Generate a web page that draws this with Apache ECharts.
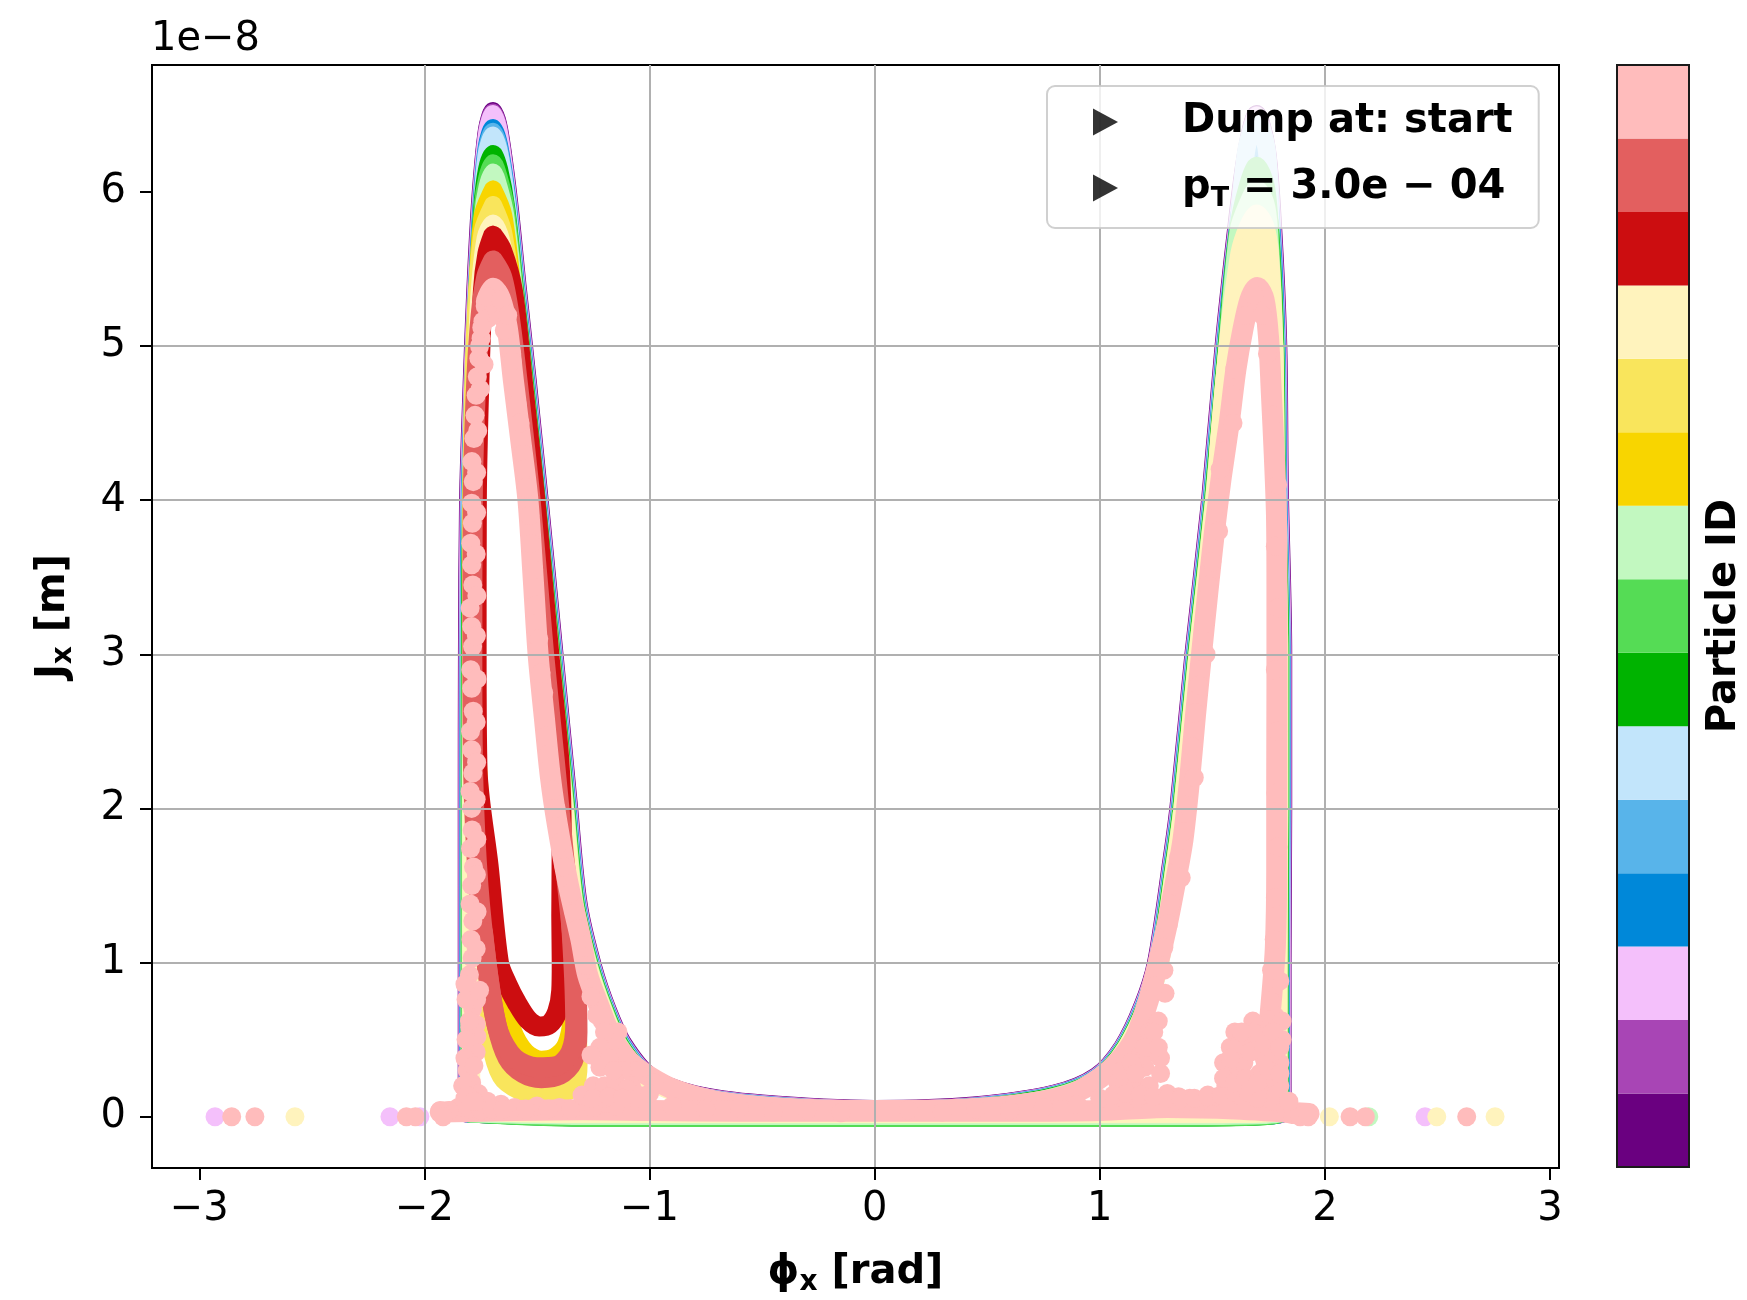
<!DOCTYPE html>
<html>
<head>
<meta charset="utf-8">
<title>Phase space: Jx vs phi_x</title>
<script src="https://cdn.jsdelivr.net/npm/echarts@6.0.0/dist/echarts.min.js"></script>
<style>
  html, body { margin: 0; padding: 0; background: #ffffff; }
  #chart { width: 1747px; height: 1300px; }
</style>
</head>
<body>
<div id="chart"></div>
<script>
// ---------------------------------------------------------------------------
// Particle phase-space samples: [phi_x (rad), J_x (units of 1e-8 m)].
// Each particle is drawn with overlapping round markers, so its dense
// trajectory is rendered as a thick round-capped trace plus loose dots.
// ---------------------------------------------------------------------------
const PARTICLE_IDS = [0, 1, 2, 3, 4, 5, 6, 7, 8, 9, 10, 11, 12, 13, 14];
const PARTICLE_COLORS = [
  '#6a0080', '#a845b5', '#f4c0fb',
  '#0088d9', '#58b4ea', '#c2e5fb',
  '#00b300', '#55dc55', '#c2f8c0',
  '#f8d500', '#f9e55c', '#fff3bd',
  '#cc0d10', '#e35f5f', '#ffbcbc'
];
const X_TICKS = [-3, -2, -1, 0, 1, 2, 3];
const Y_TICKS = [0, 1, 2, 3, 4, 5, 6];
const X_RANGE = [-3.21, 3.04];
const Y_RANGE = [-0.333, 6.823];
const LEGEND_LABELS = ['Dump at: start', 'pT = 3.0e-04'];

// circulating particles
const track0 = [[-1.812,0.02],[-1.812,1.0],[-1.812,2.0],[-1.811,3.0],[-1.806,4.0],[-1.790,4.76],[-1.774,5.36],[-1.752,5.95],[-1.722,6.405],[-1.695,6.525],[-1.668,6.405],[-1.625,5.95],[-1.584,5.36],[-1.540,4.76],[-1.488,4.0],[-1.422,3.0],[-1.357,2.0],[-1.315,1.38],[-1.250,0.97],[-1.185,0.69],[-1.115,0.47],[-0.995,0.26],[-0.800,0.145],[-0.500,0.085],[0.000,0.050],[0.440,0.072],[0.800,0.150],[0.985,0.262],[1.100,0.45],[1.190,0.72],[1.250,1.0],[1.318,1.66],[1.349,2.0],[1.416,3.0],[1.490,4.0],[1.550,5.0],[1.605,5.75],[1.650,6.25],[1.697,6.505],[1.742,6.28],[1.770,5.77],[1.793,5.0],[1.800,4.07],[1.815,3.0],[1.815,2.0],[1.812,1.0],[1.812,0.02],[1.300,0.0],[0.000,0.0],[-1.300,0.0],[-1.812,0.02]];
const track1 = [[-1.810,0.02],[-1.810,1.0],[-1.810,2.0],[-1.809,3.0],[-1.804,4.0],[-1.788,4.76],[-1.772,5.36],[-1.750,5.95],[-1.722,6.395],[-1.695,6.515],[-1.668,6.395],[-1.627,5.95],[-1.586,5.36],[-1.542,4.76],[-1.490,4.0],[-1.424,3.0],[-1.359,2.0],[-1.317,1.38],[-1.252,0.97],[-1.187,0.69],[-1.117,0.468],[-0.996,0.258],[-0.800,0.143],[-0.500,0.083],[0.000,0.048],[0.440,0.070],[0.800,0.148],[0.986,0.26],[1.102,0.45],[1.192,0.72],[1.252,1.0],[1.320,1.66],[1.351,2.0],[1.418,3.0],[1.492,4.0],[1.552,5.0],[1.607,5.75],[1.651,6.245],[1.697,6.50],[1.741,6.275],[1.768,5.77],[1.791,5.0],[1.798,4.07],[1.813,3.0],[1.813,2.0],[1.810,1.0],[1.810,0.02],[1.300,0.0],[0.000,0.0],[-1.300,0.0],[-1.810,0.02]];
const track2 = [[-1.808,0.02],[-1.808,1.0],[-1.808,2.0],[-1.807,3.0],[-1.802,4.0],[-1.786,4.76],[-1.770,5.36],[-1.748,5.95],[-1.721,6.385],[-1.695,6.505],[-1.669,6.385],[-1.629,5.95],[-1.588,5.36],[-1.544,4.76],[-1.492,4.0],[-1.426,3.0],[-1.361,2.0],[-1.319,1.38],[-1.254,0.97],[-1.189,0.69],[-1.119,0.466],[-0.998,0.256],[-0.800,0.14],[-0.500,0.08],[0.000,0.045],[0.440,0.067],[0.800,0.145],[0.988,0.258],[1.104,0.45],[1.194,0.72],[1.254,1.0],[1.322,1.66],[1.353,2.0],[1.420,3.0],[1.494,4.0],[1.554,5.0],[1.609,5.75],[1.652,6.24],[1.697,6.495],[1.740,6.27],[1.766,5.77],[1.789,5.0],[1.796,4.07],[1.811,3.0],[1.811,2.0],[1.808,1.0],[1.808,0.02],[1.300,-0.002],[0.000,-0.002],[-1.300,-0.002],[-1.808,0.02]];
const track3 = [[-1.805,0.02],[-1.805,1.0],[-1.805,2.0],[-1.804,3.0],[-1.799,4.0],[-1.783,4.76],[-1.767,5.36],[-1.745,5.95],[-1.722,6.30],[-1.695,6.415],[-1.668,6.30],[-1.632,5.95],[-1.591,5.36],[-1.547,4.76],[-1.495,4.0],[-1.429,3.0],[-1.364,2.0],[-1.322,1.38],[-1.257,0.97],[-1.192,0.69],[-1.121,0.464],[-1.000,0.254],[-0.800,0.138],[-0.500,0.078],[0.000,0.043],[0.440,0.065],[0.800,0.143],[0.990,0.256],[1.107,0.45],[1.197,0.72],[1.257,1.0],[1.325,1.66],[1.356,2.0],[1.423,3.0],[1.497,4.0],[1.557,5.0],[1.612,5.75],[1.655,6.17],[1.697,6.32],[1.738,6.17],[1.763,5.77],[1.786,5.0],[1.793,4.07],[1.808,3.0],[1.808,2.0],[1.805,1.0],[1.805,0.02],[1.300,-0.004],[0.000,-0.004],[-1.300,-0.004],[-1.805,0.02]];
const track4 = [[-1.803,0.02],[-1.803,1.0],[-1.803,2.0],[-1.802,3.0],[-1.797,4.0],[-1.781,4.76],[-1.765,5.36],[-1.743,5.95],[-1.722,6.28],[-1.695,6.39],[-1.668,6.28],[-1.634,5.95],[-1.593,5.36],[-1.549,4.76],[-1.497,4.0],[-1.431,3.0],[-1.366,2.0],[-1.324,1.38],[-1.259,0.97],[-1.194,0.69],[-1.123,0.462],[-1.001,0.252],[-0.800,0.135],[-0.500,0.075],[0.000,0.040],[0.440,0.062],[0.800,0.140],[0.991,0.254],[1.109,0.45],[1.199,0.72],[1.259,1.0],[1.327,1.66],[1.358,2.0],[1.425,3.0],[1.499,4.0],[1.559,5.0],[1.614,5.75],[1.653,6.22],[1.697,6.38],[1.740,6.22],[1.761,5.77],[1.784,5.0],[1.791,4.07],[1.806,3.0],[1.806,2.0],[1.803,1.0],[1.803,0.02],[1.300,-0.003],[0.000,-0.003],[-1.300,-0.003],[-1.803,0.02]];
const track5 = [[-1.801,0.02],[-1.801,1.0],[-1.801,2.0],[-1.800,3.0],[-1.795,4.0],[-1.779,4.76],[-1.763,5.36],[-1.741,5.95],[-1.722,6.255],[-1.695,6.365],[-1.668,6.255],[-1.636,5.95],[-1.595,5.36],[-1.551,4.76],[-1.499,4.0],[-1.433,3.0],[-1.368,2.0],[-1.326,1.38],[-1.261,0.97],[-1.196,0.69],[-1.125,0.46],[-1.003,0.25],[-0.800,0.133],[-0.500,0.073],[0.000,0.038],[0.440,0.060],[0.800,0.138],[0.993,0.252],[1.111,0.45],[1.201,0.72],[1.261,1.0],[1.329,1.66],[1.360,2.0],[1.427,3.0],[1.501,4.0],[1.561,5.0],[1.616,5.75],[1.652,6.28],[1.697,6.46],[1.741,6.28],[1.759,5.77],[1.782,5.0],[1.789,4.07],[1.804,3.0],[1.804,2.0],[1.801,1.0],[1.801,0.02],[1.300,0.0],[0.000,0.0],[-1.300,0.0],[-1.801,0.02]];
const track6 = [[-1.799,0.02],[-1.799,1.0],[-1.799,2.0],[-1.798,3.0],[-1.793,4.0],[-1.777,4.76],[-1.761,5.36],[-1.743,5.9],[-1.722,6.145],[-1.695,6.245],[-1.668,6.145],[-1.637,5.9],[-1.597,5.36],[-1.553,4.76],[-1.501,4.0],[-1.435,3.0],[-1.370,2.0],[-1.328,1.38],[-1.263,0.97],[-1.198,0.69],[-1.127,0.458],[-1.004,0.248],[-0.800,0.130],[-0.500,0.070],[0.000,0.035],[0.440,0.057],[0.800,0.135],[0.994,0.25],[1.113,0.45],[1.203,0.72],[1.263,1.0],[1.331,1.66],[1.362,2.0],[1.429,3.0],[1.503,4.0],[1.563,5.0],[1.615,5.75],[1.660,5.95],[1.697,6.05],[1.735,5.95],[1.757,5.75],[1.780,5.0],[1.787,4.07],[1.802,3.0],[1.802,2.0],[1.799,1.0],[1.799,0.02],[1.300,-0.006],[0.000,-0.006],[-1.300,-0.006],[-1.799,0.02]];
const track7 = [[-1.797,0.02],[-1.797,1.0],[-1.797,2.0],[-1.796,3.0],[-1.791,4.0],[-1.775,4.76],[-1.759,5.36],[-1.741,5.9],[-1.721,6.09],[-1.695,6.185],[-1.669,6.09],[-1.639,5.9],[-1.599,5.36],[-1.555,4.76],[-1.503,4.0],[-1.437,3.0],[-1.372,2.0],[-1.330,1.38],[-1.265,0.97],[-1.200,0.69],[-1.129,0.456],[-1.006,0.246],[-0.800,0.126],[-0.500,0.066],[0.000,0.031],[0.440,0.053],[0.800,0.131],[0.996,0.248],[1.115,0.45],[1.205,0.72],[1.265,1.0],[1.333,1.66],[1.364,2.0],[1.431,3.0],[1.505,4.0],[1.565,5.0],[1.614,5.75],[1.658,6.04],[1.697,6.17],[1.737,6.04],[1.755,5.77],[1.778,5.0],[1.785,4.07],[1.800,3.0],[1.800,2.0],[1.797,1.0],[1.797,0.02],[1.300,-0.008],[0.000,-0.008],[-1.300,-0.008],[-1.797,0.02]];
const track8 = [[-1.794,0.02],[-1.794,1.0],[-1.794,2.0],[-1.793,3.0],[-1.788,4.0],[-1.772,4.76],[-1.756,5.36],[-1.739,5.85],[-1.720,6.03],[-1.695,6.125],[-1.670,6.03],[-1.641,5.85],[-1.602,5.36],[-1.558,4.76],[-1.506,4.0],[-1.440,3.0],[-1.375,2.0],[-1.333,1.38],[-1.268,0.97],[-1.203,0.69],[-1.131,0.454],[-1.008,0.244],[-0.800,0.124],[-0.500,0.064],[0.000,0.029],[0.440,0.051],[0.800,0.129],[0.998,0.246],[1.118,0.45],[1.208,0.72],[1.268,1.0],[1.336,1.66],[1.367,2.0],[1.434,3.0],[1.508,4.0],[1.568,5.0],[1.617,5.75],[1.660,5.93],[1.697,6.02],[1.735,5.93],[1.752,5.75],[1.775,5.0],[1.782,4.07],[1.797,3.0],[1.797,2.0],[1.794,1.0],[1.794,0.02],[1.300,0.004],[0.000,0.004],[-1.300,0.004],[-1.794,0.02]];
const track11 = [[-1.792,0.03],[-1.792,1.0],[-1.792,2.0],[-1.791,3.0],[-1.786,4.0],[-1.770,4.76],[-1.757,5.3],[-1.728,5.7],[-1.695,5.795],[-1.662,5.7],[-1.610,5.3],[-1.560,4.76],[-1.508,4.0],[-1.442,3.0],[-1.377,2.0],[-1.335,1.38],[-1.270,0.97],[-1.205,0.69],[-1.133,0.452],[-1.009,0.242],[-0.800,0.120],[-0.500,0.060],[0.000,0.025],[0.440,0.047],[0.800,0.125],[0.999,0.244],[1.118,0.45],[1.208,0.72],[1.268,1.0],[1.336,1.66],[1.367,2.0],[1.434,3.0],[1.508,4.0],[1.568,5.0],[1.620,5.6],[1.660,5.78],[1.697,5.86],[1.735,5.78],[1.756,5.6],[1.775,5.0],[1.782,4.07],[1.797,3.0],[1.797,2.0],[1.794,1.0],[1.794,0.03],[1.300,0.015],[0.000,0.015],[-1.300,0.015],[-1.792,0.03]];
const track11Right = [[1.525,4.3],[1.57,5.0],[1.63,5.52],[1.697,5.72],[1.748,5.52],[1.77,5.0],[1.78,4.3],[1.775,5.0],[1.74,5.45],[1.697,5.6],[1.64,5.42],[1.585,5.0],[1.545,4.3],[1.60,5.0],[1.65,5.35],[1.697,5.48],[1.735,5.35],[1.765,5.0],[1.78,4.4]];

// librating particles (left island)
const track9 = [[-1.695,6.015],[-1.650,5.85],[-1.608,5.36],[-1.564,4.76],[-1.512,4.0],[-1.446,3.0],[-1.381,2.0],[-1.35,1.5],[-1.34,1.0],[-1.345,0.65],[-1.37,0.47],[-1.42,0.39],[-1.48,0.37],[-1.55,0.42],[-1.61,0.57],[-1.66,0.85],[-1.71,1.3],[-1.75,2.0],[-1.785,3.0],[-1.79,4.0],[-1.78,4.76],[-1.765,5.36],[-1.74,5.85],[-1.695,6.015]];
const track10 = [[-1.695,5.915],[-1.652,5.75],[-1.612,5.36],[-1.567,4.76],[-1.515,4.0],[-1.449,3.0],[-1.384,2.0],[-1.35,1.5],[-1.33,1.0],[-1.32,0.6],[-1.315,0.35],[-1.33,0.2],[-1.39,0.15],[-1.48,0.14],[-1.58,0.17],[-1.66,0.26],[-1.71,0.5],[-1.74,0.9],[-1.77,1.6],[-1.79,2.5],[-1.793,3.5],[-1.79,4.3],[-1.78,4.9],[-1.765,5.36],[-1.74,5.75],[-1.695,5.915]];
const track12 = [[-1.695,5.715],[-1.655,5.62],[-1.607,5.36],[-1.562,4.76],[-1.507,4.0],[-1.445,3.0],[-1.40,2.3],[-1.39,1.8],[-1.392,1.3],[-1.39,1.0],[-1.392,0.82],[-1.41,0.68],[-1.445,0.60],[-1.49,0.585],[-1.54,0.63],[-1.59,0.74],[-1.632,0.86],[-1.669,1.0],[-1.715,1.63],[-1.764,2.25],[-1.768,3.0],[-1.767,4.0],[-1.756,4.76],[-1.74,5.36],[-1.72,5.6],[-1.695,5.715]];
const track13 = [[-1.695,5.555],[-1.655,5.45],[-1.622,5.2],[-1.585,4.76],[-1.528,4.0],[-1.468,3.0],[-1.42,2.3],[-1.38,1.7],[-1.345,1.2],[-1.325,0.85],[-1.32,0.55],[-1.34,0.36],[-1.40,0.27],[-1.48,0.25],[-1.56,0.28],[-1.63,0.38],[-1.68,0.6],[-1.72,0.95],[-1.76,1.5],[-1.783,2.2],[-1.787,3.0],[-1.785,4.0],[-1.77,4.76],[-1.75,5.2],[-1.725,5.45],[-1.695,5.555]];
const track13Inner = [[-1.74,1.2],[-1.71,0.85],[-1.67,0.55],[-1.60,0.38],[-1.50,0.32],[-1.41,0.33],[-1.35,0.42],[-1.33,0.6],[-1.335,0.9],[-1.35,1.3]];

// particle near the separatrix: visits both islands
const track14A = [[-1.725,5.29],[-1.695,5.375],[-1.663,5.31],[-1.632,5.12],[-1.605,4.78],[-1.573,4.4],[-1.54,4.0],[-1.517,3.5],[-1.495,3.0],[-1.468,2.6],[-1.44,2.2],[-1.41,1.9],[-1.36,1.5],[-1.305,1.15],[-1.275,0.92],[-1.225,0.72],[-1.17,0.52],[-1.09,0.36],[-1.0,0.26],[-0.88,0.17],[-0.7,0.1],[-0.4,0.055],[0.0,0.04],[0.4,0.05],[0.7,0.09],[0.88,0.15],[1.0,0.25],[1.09,0.37],[1.16,0.52],[1.215,0.75],[1.26,1.0],[1.30,1.25],[1.34,1.55],[1.37,1.8],[1.40,2.2],[1.425,2.6],[1.452,3.0],[1.48,3.4],[1.51,3.8],[1.54,4.15],[1.575,4.5],[1.605,4.85],[1.635,5.1],[1.667,5.3],[1.70,5.38],[1.73,5.3],[1.75,5.05],[1.762,4.7],[1.775,4.3],[1.785,3.9],[1.787,3.4],[1.787,2.8],[1.786,2.2],[1.786,1.6],[1.78,1.1],[1.765,0.8],[1.75,0.55],[1.74,0.35],[1.76,0.15],[1.80,0.05],[1.86,0.02]];
const track14B = [[-1.93,0.03],[-1.6,0.04],[-1.3,0.045],[-1.0,0.04],[-0.6,0.035],[0.0,0.035],[0.6,0.035],[1.0,0.04],[1.3,0.06],[1.6,0.05],[1.93,0.02]];

// loose markers
const dots2 = [[-2.93,0],[-2.153,0],[-2.02,0],[2.445,0]];
const dots8 = [[2.195,0]];
const dots11 = [[-2.575,0],[2.02,0],[2.497,0],[2.756,0]];
const dots14 = [
  // left island, outer arm
  [-1.795,0.35],[-1.79,0.46],[-1.798,0.58],[-1.785,0.70],[-1.792,0.81],[-1.80,0.92],[-1.788,1.03],[-1.793,1.15],[-1.785,1.27],[-1.797,1.38],
  [-1.79,1.50],[-1.782,1.62],[-1.795,1.74],[-1.788,1.86],[-1.79,2.00],[-1.797,2.11],[-1.785,2.23],[-1.79,2.38],[-1.795,2.50],[-1.783,2.63],
  [-1.79,2.78],[-1.794,2.90],[-1.786,3.05],[-1.79,3.18],[-1.797,3.30],[-1.785,3.45],[-1.79,3.58],[-1.794,3.72],[-1.787,3.85],[-1.79,3.98],
  [-1.783,4.12],[-1.789,4.25],[-1.78,4.40],[-1.775,4.55],[-1.77,4.68],[-1.765,4.80],[-1.758,4.92],[-1.748,5.05],[-1.74,5.16],[-1.73,5.26],
  [-1.767,0.52],[-1.768,0.76],[-1.770,1.09],[-1.766,1.33],[-1.769,1.57],[-1.767,1.80],[-1.770,2.06],[-1.768,2.30],[-1.770,2.56],[-1.766,2.84],
  [-1.769,3.12],[-1.767,3.38],[-1.770,3.65],[-1.768,3.92],[-1.768,4.18],[-1.763,4.45],[-1.752,4.72],
  // top of the left island
  [-1.715,5.18],[-1.675,5.22],[-1.645,5.10],[-1.755,5.00],[-1.70,5.28],[-1.745,5.12],[-1.72,5.32],[-1.66,5.30],[-1.63,5.20],[-1.612,4.95],[-1.735,4.88],
  // left island, inner arm
  [-1.588,4.62],[-1.562,4.30],[-1.548,4.08],[-1.527,3.72],[-1.508,3.32],[-1.482,2.88],[-1.457,2.47],[-1.432,2.12],[-1.395,1.78],[-1.335,1.32],
  [-1.29,1.04],[-1.255,0.84],[-1.21,0.62],[-1.16,0.45],[-1.11,0.40],[-1.06,0.30],[-0.98,0.22],[-1.14,0.55],
  [-1.61,4.90],[-1.575,4.50],[-1.555,4.20],[-1.532,3.90],[-1.515,3.55],[-1.492,3.10],[-1.47,2.75],[-1.45,2.35],[-1.415,2.00],[-1.38,1.62],
  [-1.35,1.45],[-1.318,1.22],[-1.285,0.98],[-1.26,0.78],[-1.235,0.66],[-1.20,0.55],[-1.22,0.45],[-1.18,0.38],[-1.12,0.30],[-1.08,0.20],[-1.05,0.14],
  // bottom of the left island
  [-1.82,0.12],[-1.79,0.22],[-1.81,0.30],[-1.77,0.42],[-1.815,0.50],[-1.77,0.60],[-1.815,0.76],[-1.755,0.82],[-1.76,0.15],[-1.72,0.10],
  [-1.66,0.08],[-1.85,0.06],[-1.89,0.04],[-1.93,0.04],[-1.60,0.06],[-1.50,0.07],[-1.40,0.06],[-1.30,0.07],[-1.20,0.09],[-1.10,0.10],
  [-1.83,0.20],[-1.82,0.38],[-1.80,0.62],[-1.82,0.86],[-1.78,0.33],[-1.80,0.05],[-1.75,0.04],[-1.70,0.05],[-1.65,0.05],[-1.55,0.05],
  [-1.45,0.05],[-1.35,0.05],[-1.25,0.06],[-1.15,0.07],[-1.05,0.10],
  [-1.25,0.20],[-1.20,0.20],[-1.15,0.22],[-1.10,0.18],[-1.30,0.14],[-1.25,0.12],[-1.18,0.13],[-1.12,0.12],[-1.05,0.12],[-1.00,0.15],
  [-1.22,0.32],[-1.16,0.30],[-1.26,0.40],[-1.81,0.14],[-1.78,0.10],
  // flat band
  [-0.90,0.07],[-0.75,0.05],[-0.60,0.055],[-0.45,0.03],[-0.30,0.045],[-0.15,0.025],[0.15,0.045],[0.30,0.03],[0.45,0.05],[0.60,0.04],[0.75,0.06],[0.90,0.08],
  // bottom of the right island
  [1.05,0.10],[1.10,0.16],[1.15,0.24],[1.20,0.32],[1.24,0.42],[1.22,0.20],[1.27,0.28],[1.30,0.15],[1.38,0.09],[1.45,0.10],
  [1.52,0.13],[1.56,0.20],[1.60,0.30],[1.63,0.42],[1.66,0.52],[1.70,0.45],[1.74,0.52],[1.71,0.28],[1.76,0.22],[1.80,0.35],
  [1.81,0.50],[1.78,0.65],[1.62,0.14],[1.70,0.12],[1.77,0.10],[1.83,0.05],[1.86,0.02],[1.89,0.0],
  [1.55,0.35],[1.58,0.45],[1.60,0.55],[1.64,0.35],[1.68,0.62],[1.69,0.20],[1.73,0.38],[1.77,0.42],[1.80,0.20],[1.81,0.62],
  [1.76,0.75],[1.80,0.88],[1.08,0.22],[1.12,0.10],[1.17,0.12],[1.18,0.40],[1.22,0.55],[1.27,0.38],[1.26,0.62],[1.29,0.80],
  [1.35,0.13],[1.40,0.12],[1.48,0.14],
  [1.00,0.12],[1.06,0.14],[1.12,0.15],[1.18,0.14],[1.24,0.13],[1.30,0.12],[1.36,0.12],[1.42,0.12],[1.48,0.13],[1.54,0.14],
  [1.60,0.16],[1.66,0.16],[1.72,0.15],[1.78,0.14],[1.84,0.10],
  [1.55,0.25],[1.60,0.22],[1.65,0.25],[1.70,0.22],[1.75,0.30],[1.80,0.28],[1.58,0.38],[1.62,0.48],[1.67,0.42],[1.72,0.48],
  [1.77,0.55],[1.80,0.45],[1.68,0.55],[1.63,0.55],[1.10,0.30],[1.14,0.35],[1.20,0.45],[1.24,0.55],[1.16,0.28],[1.26,0.45],
  // right island arms
  [1.245,0.85],[1.285,1.10],[1.315,1.38],[1.35,1.68],[1.385,2.02],[1.41,2.40],[1.44,2.80],[1.468,3.20],[1.498,3.60],[1.528,3.98],
  [1.558,4.32],[1.59,4.68],[1.618,4.98],[1.65,5.20],[1.685,5.33],[1.722,5.20],
  [1.285,0.95],[1.305,1.25],[1.362,1.55],[1.372,1.85],[1.42,2.20],[1.425,2.62],[1.472,3.00],[1.48,3.45],[1.528,3.80],[1.535,4.20],[1.592,4.50],[1.60,4.85],
  [1.745,4.95],[1.768,4.55],[1.79,4.10],[1.78,3.70],[1.792,3.30],[1.78,2.90],[1.79,2.50],[1.782,2.10],[1.792,1.75],[1.78,1.42],[1.775,1.15],[1.763,0.95],
  // scattered near J = 0
  [-2.856,0],[-2.753,0],[-2.08,0],[-2.04,0],[-1.917,0],[1.926,0],[2.112,0],[2.18,0],[2.63,0]
];

// per-particle grouping of the arrays above (index = particle ID)
const particleTracks = [
  [track0], [track1], [track2], [track3], [track4], [track5], [track6], [track7], [track8],
  [track9], [track10], [track11, track11Right], [track12], [track13, track13Inner], [track14A, track14B]
];
const particleDots = [[], [], dots2, [], [], [], [], [], dots8, [], [], dots11, [], [], dots14];

// ---------------------------------------------------------------------------
const FONT = 'DejaVu Sans';
const FS = 40;            // base font size
const MARK = 19;          // marker diameter in px
const GRID_GRAY = '#b0b0b0';

// dense traces are a little wider than one marker where the samples scatter around the orbit
function traceWidth(id) {
  if (id === 14) return 21;
  if (id === 12 || id === 13) return 20;
  return 18;
}

function fmtTick(v) {
  return v < 0 ? '\u2212' + Math.abs(v) : String(v);
}

const series = [];
PARTICLE_IDS.forEach(function (id) {
  const color = PARTICLE_COLORS[id];
  particleTracks[id].forEach(function (pts) {
    series.push({
      type: 'line', xAxisIndex: 0, yAxisIndex: 0, data: pts,
      symbol: 'none', showSymbol: false, smooth: 0.3, silent: true, animation: false, z: 2,
      lineStyle: { color: color, width: traceWidth(id), cap: 'round', join: 'round', opacity: 1 }
    });
  });
  if (particleDots[id].length) {
    series.push({
      type: 'scatter', xAxisIndex: 0, yAxisIndex: 0, data: particleDots[id],
      symbol: 'circle', symbolSize: MARK, silent: true, animation: false, z: 2,
      itemStyle: { color: color, opacity: 1, borderWidth: 0 }
    });
  }
});

// legend entries (marker-only handles)
LEGEND_LABELS.forEach(function (name) {
  series.push({ type: 'scatter', name: name, data: [], xAxisIndex: 0, yAxisIndex: 0, itemStyle: { color: '#000' } });
});

// colorbar: one unit-height block per particle ID
PARTICLE_IDS.forEach(function (id) {
  series.push({
    type: 'bar', xAxisIndex: 1, yAxisIndex: 1, stack: 'colorbar', data: [1],
    barWidth: '100%', silent: true, animation: false, z: -1,
    itemStyle: { color: PARTICLE_COLORS[id], borderWidth: 0 }
  });
});

const boldRich = {
  b: { fontFamily: FONT, fontSize: FS, fontWeight: 'bold', color: '#000', lineHeight: 48 },
  s: { fontFamily: FONT, fontSize: 28, fontWeight: 'bold', color: '#000', lineHeight: 31, verticalAlign: 'bottom' }
};

const option = {
  animation: false,
  backgroundColor: '#ffffff',
  textStyle: { fontFamily: FONT },
  title: {
    text: '1e\u22128', left: 151, top: 20, padding: 0,
    textStyle: { fontFamily: FONT, fontSize: FS, fontWeight: 'normal', color: '#000' }
  },
  grid: [
    { left: 152, top: 65, width: 1407, height: 1103, show: true, borderColor: '#000', borderWidth: 2,
      backgroundColor: 'transparent', containLabel: false, outerBoundsMode: 'none' },
    { left: 1617, top: 65, width: 72, height: 1102, show: true, borderColor: '#1a1a1a', borderWidth: 2,
      backgroundColor: 'transparent', containLabel: false, outerBoundsMode: 'none' }
  ],
  xAxis: [
    {
      type: 'value', gridIndex: 0, min: X_RANGE[0], max: X_RANGE[1], z: 3,
      axisLine: { show: true, onZero: false, lineStyle: { color: '#000', width: 2 } },
      axisTick: { show: true, inside: false, length: 12, customValues: X_TICKS, lineStyle: { color: '#000', width: 2 } },
      axisLabel: { show: true, customValues: X_TICKS, margin: 22, fontFamily: FONT, fontSize: FS, color: '#000', formatter: fmtTick },
      splitLine: { show: true, showMinLine: false, showMaxLine: false, lineStyle: { color: GRID_GRAY, width: 2 } },
      name: '{b|\u03d5}{s|x}{b| [rad]}', nameLocation: 'middle', nameGap: 81,
      nameTextStyle: { fontFamily: FONT, fontSize: FS, fontWeight: 'bold', color: '#000', rich: boldRich }
    },
    { type: 'category', gridIndex: 1, data: ['ID'], show: false, boundaryGap: true }
  ],
  yAxis: [
    {
      type: 'value', gridIndex: 0, min: Y_RANGE[0], max: Y_RANGE[1], z: 3,
      axisLine: { show: true, onZero: false, lineStyle: { color: '#000', width: 2 } },
      axisTick: { show: true, inside: false, length: 12, customValues: Y_TICKS, lineStyle: { color: '#000', width: 2 } },
      axisLabel: { show: true, customValues: Y_TICKS, margin: 26, fontFamily: FONT, fontSize: FS, color: '#000', formatter: fmtTick },
      splitLine: { show: true, showMinLine: false, showMaxLine: false, lineStyle: { color: GRID_GRAY, width: 2 } },
      name: '{b|J}{s|x}{b| [m]}', nameLocation: 'middle', nameRotate: 90, nameGap: 74,
      nameTextStyle: { fontFamily: FONT, fontSize: FS, fontWeight: 'bold', color: '#000', rich: boldRich }
    },
    {
      type: 'value', gridIndex: 1, min: 0, max: PARTICLE_IDS.length, position: 'right',
      axisLine: { show: false }, axisTick: { show: false }, axisLabel: { show: false }, splitLine: { show: false },
      name: 'Particle ID', nameLocation: 'middle', nameRotate: 90, nameGap: 16,
      nameTextStyle: { fontFamily: FONT, fontSize: FS, fontWeight: 'bold', color: '#000' }
    }
  ],
  legend: {
    show: true, orient: 'vertical', left: 1047, top: 86,
    padding: [16, 26, 16, 46], itemGap: 26, itemWidth: 25, itemHeight: 27,
    icon: 'path://M0,0L25,13.5L0,27Z',
    backgroundColor: 'rgba(255,255,255,0.8)', borderColor: 'rgba(200,200,200,0.85)', borderWidth: 2, borderRadius: 8,
    selectedMode: false, z: 6,
    data: LEGEND_LABELS.map(function (n) { return { name: n, itemStyle: { color: '#000' } }; }),
    formatter: function (name) {
      if (name === LEGEND_LABELS[1]) return '{g|\u00a0}{b|p}{s|T}{b| = 3.0e \u2212 04}';
      return '{g|\u00a0}{b|' + name + '}';
    },
    textStyle: {
      fontFamily: FONT, fontSize: FS, fontWeight: 'bold', color: '#000',
      rich: {
        g: { width: 59, fontSize: FS, lineHeight: 48 },
        b: { fontFamily: FONT, fontSize: FS, fontWeight: 'bold', color: '#000', lineHeight: 48 },
        s: { fontFamily: FONT, fontSize: 27, fontWeight: 'bold', color: '#000', lineHeight: 31, verticalAlign: 'bottom' }
      }
    }
  },
  series: series
};

const chart = echarts.init(document.getElementById('chart'), null, { renderer: 'canvas', width: 1747, height: 1300 });
chart.setOption(option);
</script>
</body>
</html>
